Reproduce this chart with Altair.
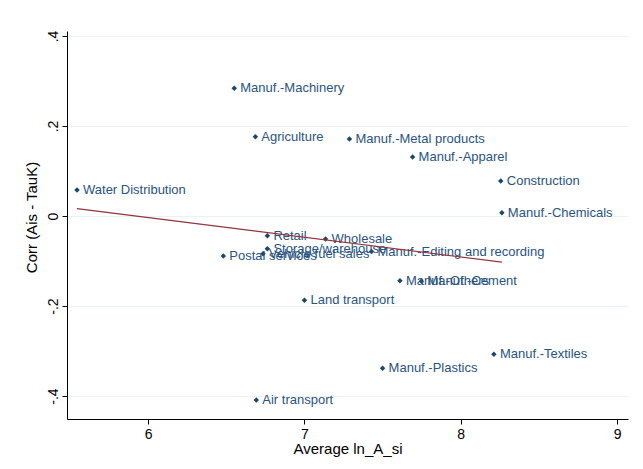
import altair as alt
import pandas as pd

industries = [
    "Manuf.-Machinery", "Agriculture", "Manuf.-Metal products", "Manuf.-Apparel",
    "Construction", "Manuf.-Chemicals", "Water Distribution", "Retail", "Wholesale",
    "Storage/warehouse", "Vehicle fuel sales", "Postal services",
    "Manuf.-Editing and recording", "Manuf.-Others", "Manuf.-Cement",
    "Land transport", "Manuf.-Textiles", "Manuf.-Plastics", "Air transport",
]
avg_ln_a = [6.551, 6.686, 7.288, 7.692, 8.256, 8.263, 5.545, 6.763, 7.135,
            6.763, 6.735, 6.481, 7.429, 7.611, 7.748, 7.0, 8.212, 7.5, 6.692]
corr_ais_tauk = [0.284, 0.176, 0.171, 0.131, 0.078, 0.007, 0.058, -0.044, -0.051,
                 -0.073, -0.084, -0.089, -0.079, -0.144, -0.145, -0.187, -0.307,
                 -0.338, -0.409]

x_ticks = [6, 7, 8, 9]
y_ticks = [-0.4, -0.2, 0, 0.2, 0.4]

df = pd.DataFrame({"ind": industries, "x": avg_ln_a, "y": corr_ais_tauk})

navy = "#1a476f"
label_col = "#2a5480"
maroon = "#90353b"
FONT = "Liberation Sans"

xscale = alt.Scale(domain=[5.481, 9.07], nice=False, zero=False)
yscale = alt.Scale(domain=[-0.451, 0.411], nice=False, zero=False)

xaxis = alt.Axis(values=x_ticks, title="Average ln_A_si", grid=False,
                 domainColor="black", tickColor="black", tickSize=5,
                 labelFontSize=14, titleFontSize=15, labelColor="black",
                 titleColor="black", titleFontWeight="normal", labelPadding=3,
                 titlePadding=0, labelFont=FONT, titleFont=FONT, format="d")
yaxis = alt.Axis(values=y_ticks, title="Corr (Ais - TauK)", grid=True,
                 gridColor="#eaf2f3", gridWidth=1,
                 domainColor="black", tickColor="black", tickSize=5,
                 labelFontSize=14, titleFontSize=15, labelColor="black",
                 titleColor="black", titleFontWeight="normal",
                 labelAngle=270, labelAlign="center", labelBaseline="bottom",
                 labelPadding=2, titleX=-36, titleY=186, titleAlign="center",
                 titleBaseline="middle", titleAngle=270,
                 labelFont=FONT, titleFont=FONT,
                 labelExpr="datum.value == 0 ? '0' : (datum.value < 0 ? '-' : '') + '.' + format(abs(datum.value) * 10, '.0f')")

base = alt.Chart(df)

points = base.mark_point(shape="diamond", filled=True, size=30, color=navy, opacity=1).encode(
    x=alt.X("x:Q", scale=xscale, axis=xaxis),
    y=alt.Y("y:Q", scale=yscale, axis=yaxis),
)

labels = base.mark_text(align="left", baseline="middle", dx=6, fontSize=13,
                        font=FONT, color=label_col).encode(
    x=alt.X("x:Q", scale=xscale),
    y=alt.Y("y:Q", scale=yscale),
    text="ind:N",
)

fit = base.transform_regression("x", "y", method="linear").mark_line(
    color=maroon, strokeWidth=1.1).encode(
    x=alt.X("x:Q", scale=xscale),
    y=alt.Y("y:Q", scale=yscale),
)

chart = (points + labels + fit).properties(
    width=561, height=388,
    autosize=alt.AutoSizeParams(type="none"),
    padding={"left": 59, "top": 23, "right": 7, "bottom": 40},
    background="white",
).configure_view(stroke=None)

chart.save("out.html", embed_options={"renderer": "svg", "actions": False})
